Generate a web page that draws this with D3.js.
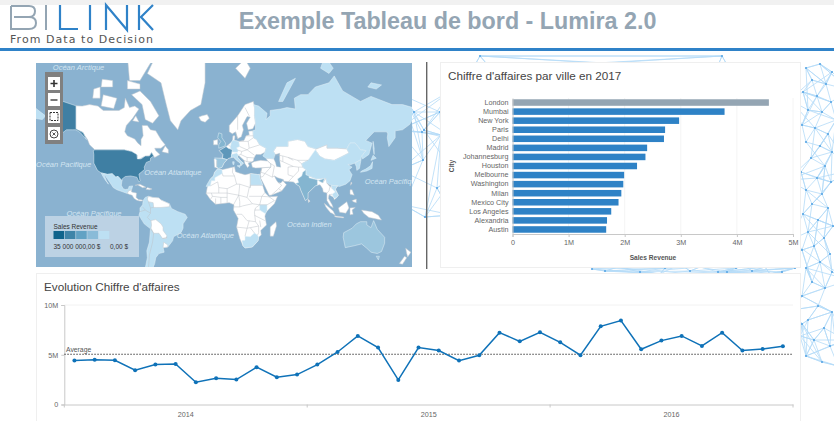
<!DOCTYPE html>
<html>
<head>
<meta charset="utf-8">
<script src="https://d3js.org/d3.v7.min.js"></script>
<style>
html, body { margin: 0; padding: 0; background: #fff; overflow: hidden; }
svg { display: block; }
text { font-family: "Liberation Sans", Arial, sans-serif; }
</style>
</head>
<body>
<div class="svg-container"></div>
<script>
var width = 834,
  height = 421;

// ---- data ----
var cities = ["London", "Mumbai", "New York", "Paris", "Delhi", "Madrid", "Johannesburg", "Houston",
  "Melbourne", "Washington", "Milan", "Mexico City", "Los Angeles", "Alexandria", "Austin"];
var cityRevenue = [4.57, 3.78, 2.97, 2.72, 2.70, 2.40, 2.37, 2.22, 1.99, 1.975, 1.94, 1.89, 1.76, 1.685, 1.67];
var revenueTicks = [0, 1, 2, 3, 4, 5];

var years = ["2014", "2015", "2016"];
var monthlyRevenue = [4.41, 4.51, 4.45, 3.44, 4.01, 4.08, 2.24, 2.64, 2.51, 3.75, 2.74, 3.01,
  4.01, 5.28, 6.89, 5.72, 2.47, 5.72, 5.42, 4.41, 4.95, 7.22, 6.35, 7.26,
  6.25, 4.95, 7.86, 8.43, 5.55, 6.42, 6.89, 5.89, 7.22, 5.42, 5.58, 5.85];
var averageRevenue = 5.05;
var monthlyTicks = [0, 5, 10];

var legendColors = ["#10648c", "#3f84a8", "#62a2c4", "#8abbd8", "#bde0f3"];
var legendLabels = ["35 000 000,00 $", "0,00 $"];

var oceanLabels = [
  ["Océan Arctique", -163, 78.6], ["Océan Arctique", 105, 81.4], ["Océan Pacifique", -179, 37],
  ["Océan Atlantique", -76, 31], ["Océan Pacifique", -150, -7], ["Océan Atlantique", -45, -26.5],
  ["Océan Indien", 60, -17], ["Océan Pacifique", 134, 23]
];

// country outlines in [lon, lat], colour is the legend step
var white = "#ffffff", c1 = "#bde0f3", c2 = "#9cc6de", c3 = "#84b5d0", c4 = "#5e97ba", c5 = "#3f7fa3";
var lands = [
  // americas
  [white, [[-141,69.6],[-135,69.5],[-128,70],[-120,69.5],[-115,68],[-108,68],[-100,68],[-95,69],[-94,72],[-90,69],[-85,69.5],[-81,68.5],[-87,65],[-93,62],[-94.5,59],[-92,57],[-85,55.3],[-82,53],[-79,51.5],[-79,55],[-77,57],[-78,62],[-73,62],[-70,60],[-65,59.5],[-60,55],[-56,52],[-60,50],[-66,50],[-65,48.5],[-61,46],[-66,44],[-67,45],[-69,47.3],[-71,45.2],[-75,45],[-79,43.5],[-83,42],[-82.5,45.5],[-88,48],[-95,49],[-123,49],[-128,52],[-130,55],[-135,59],[-141,60]]],
  [white, [[-62,66],[-68,63],[-75,64.5],[-78,70],[-88,73],[-80,74],[-70,71]]],
  [white, [[-117,69.5],[-105,68.7],[-102,72],[-115,73]]],
  [white, [[-90,76.5],[-80,76.5],[-62,82],[-75,83],[-92,81]]],
  [white, [[-125,72],[-118,72],[-118,75],[-124,74.5]]],
  [white, [[-92,74.5],[-80,74.5],[-80,75.7],[-92,76.5]]],
  [white, [[-117,75],[-106,75],[-106,76.5],[-116,76.8]]],
  [white, [[-59,47.7],[-53,46.8],[-53,49],[-56,51.5]]],
  [white, [[-87,64],[-81,63.5],[-84,66]]],
  [white, [[-73,78],[-60,76],[-55,70],[-51,64],[-44,60],[-41,64],[-32,68],[-22,70],[-18,76],[-18,81],[-30,83.5],[-60,82.5]]],
  [white, [[-24,65.5],[-22,64],[-18,63.4],[-14,65],[-16,66.5],[-21,66]]],
  [c5, [[-124.5,48.4],[-123,49],[-95,49],[-88,48],[-83,46],[-82.5,43],[-79,43],[-75,45],[-71,45],[-69,47.3],[-67,45],[-70,43.5],[-70,41.7],[-74,40.5],[-76,37],[-75.5,35.3],[-81,31.5],[-80,26],[-81,25],[-83,29],[-89,30],[-94,29.5],[-97,27.5],[-97.2,26],[-101,29.7],[-103,29],[-106.5,31.8],[-111,31.3],[-117,32.5],[-120.5,34.5],[-124,40],[-124,46]]],
  [c5, [[-141,69.6],[-156,71.3],[-166,68.5],[-162,66.5],[-168,65.6],[-161,64],[-165,62],[-162,59],[-158,58],[-165,54.7],[-155,58],[-150,60],[-144,60],[-141,60],[-137,58.7],[-131,55],[-134,58.5],[-141,60.5]]],
  [c1, [[-117,32.5],[-111,31.3],[-106.5,31.8],[-103,29],[-101,29.7],[-97.2,26],[-97.8,22],[-96,19],[-94,18.2],[-91,18.7],[-90.5,21],[-87,21.5],[-88,18],[-91,17],[-92,14.6],[-96,16],[-102,18],[-105.5,20],[-109,25],[-112.5,29.5],[-114.5,31.5],[-112,26],[-110,23],[-113,26.5],[-115.5,30]]],
  [white, [[-92,14.6],[-91,17],[-88,18],[-88,16],[-83.3,15],[-83.7,11],[-81.5,9],[-77.5,8.5],[-78,7.5],[-80,7.5],[-83,8.3],[-85.7,10],[-87.5,13],[-90,13.7]]],
  [white, [[-84.8,22],[-80,23],[-74.3,20.2],[-77.5,19.9],[-82,22.3]]],
  [white, [[-74.4,18.5],[-73,20],[-68.5,18.7],[-71,18]]],
  [c1, [[-77,8],[-75,11],[-72,12],[-68,11],[-62,10.5],[-60,8.5],[-52,5],[-50,0.5],[-44,-2.5],[-37,-5],[-35,-8],[-39,-14],[-39,-18],[-41,-22],[-48,-25.5],[-49,-29],[-53.5,-34],[-58,-34.5],[-57,-38],[-62,-39],[-65,-42],[-66,-46],[-69,-51],[-68,-55],[-72,-53.5],[-75,-49],[-73,-42],[-73.5,-37],[-71,-30],[-70,-18.5],[-76,-14],[-81,-6],[-80,-2.5],[-80,1],[-77.5,4]]],
  [white, [[-72,12],[-68,11],[-62,10.5],[-60,8.5],[-52,5],[-52,2.2],[-60,1.5],[-64,1.5],[-67,1.5],[-67.5,6],[-72,7],[-73,9.5]]],
  [white, [[-69.5,-11],[-65,-10],[-60,-14],[-58,-17],[-58,-20],[-54.5,-24.5],[-55,-27],[-58.5,-27],[-62,-22.5],[-67,-22.5],[-69.5,-18],[-69,-15]]],
  [white, [[-58,-34.5],[-53.5,-34],[-53.5,-32.5],[-57.5,-30]]],
  // africa
  [white, [[-6,35.8],[-2,35],[10,37.3],[11,33.5],[15,32.3],[20,31],[25,32],[32,31.2],[34,31.3],[34.5,28],[37,21.5],[39,15.5],[43,11.5],[51,12],[48,5],[40,-3],[39,-7],[40.5,-15],[35,-20],[35.5,-24],[33,-26],[32.5,-29],[27,-34],[20,-34.8],[18,-33],[15,-27],[12,-17],[13.5,-9],[9,-1],[9.5,4],[5,6],[-3,5],[-8,4.5],[-13,9],[-17,14.7],[-16,20],[-13,27.5],[-10,30],[-9,33]]],
  [c1, [[-6,35.8],[-2,35],[-1.5,32],[-8.7,28.5],[-8.7,26],[-12,26],[-13,21.5],[-17,21],[-16,23],[-13,27.5],[-10,30],[-9,33]]],
  [c1, [[25,32],[32,31.2],[34,31.3],[34.5,28],[37,22],[25,22]]],
  [c1, [[34,4],[41,4],[41,-1.5],[39.5,-4.5],[34,-1]]],
  [c1, [[17,-28.8],[20,-28.5],[20,-25],[25,-25.5],[29,-22.3],[32,-24],[33,-26],[32.5,-29],[27,-34],[20,-34.8],[18,-33]]],
  [white, [[49.5,-12],[50,-16],[47,-25],[44,-25],[44,-17]]],
  // europe
  [white, [[5,59],[5,62],[13,66],[20,70],[28,71],[29,69],[29,66],[30,63],[27.5,60.5],[23,60],[21.5,63],[25,65.5],[22,65.7],[17.5,62],[18.5,60],[16.5,56.5],[13,55.5],[11,59],[8,58]]],
  [white, [[-9,37],[-9.5,43],[-2,43.5],[-1,46],[-4.5,48.5],[2,51],[4,52],[8,54],[8.5,57],[10.5,57],[10,54.5],[14,54],[19,54.5],[21,57],[24,57.5],[23.5,59.3],[27.5,59.5],[28,56],[31,55],[34,52],[40,50],[39,47.5],[35,46],[33,46],[30.5,46],[28.5,43.5],[28,41.5],[26,40.8],[23,40],[24,38],[22.5,36.6],[20,39.5],[19,42],[14,45.3],[12.5,44.5],[16,41.5],[18.5,40],[16,38],[15.5,40],[12,42],[9,44.3],[4,43.3],[0,40],[-2,36.8],[-5.5,36]]],
  [c1, [[6,51],[7,53.5],[8.5,54.8],[10,54.5],[14,54],[15,51],[12,50.2],[13.5,48.7],[13,47.5],[7.5,47.6],[8,49],[6,49.5]]],
  [c4, [[-1.5,43.4],[-1,46],[-4.5,48.5],[2,51],[4,50],[8,49],[7.5,47.6],[7,44],[4,43.3],[3,42.5]]],
  [c2, [[-9,43.7],[-2,43.4],[3,42.5],[0,40],[-2,36.8],[-5.5,36],[-7,37.2],[-7,42]]],
  [c1, [[7,44],[9,44.3],[12,42],[15.5,40],[16,38],[18.5,40],[16,41.5],[12.5,44.5],[14,45.5],[12,47],[7,46]]],
  [c1, [[12.5,38],[15.5,38.2],[15,36.7]]],
  [c1, [[8.2,41],[9.7,41],[9.5,39],[8.5,39]]],
  [c3, [[-5,50],[1,51.3],[1.5,53],[-2,56],[-2,58],[-5,58.5],[-6,56],[-3,54],[-5,52]]],
  [white, [[-10,52],[-6,52],[-6,55],[-10,54.5]]],
  [white, [[11,79],[20,77],[25,79],[20,80.5]]],
  // asia
  [white, [[40,43.5],[47.5,43],[49,46],[47,48],[50,51],[61,51],[61,54],[70,55],[77,54],[80,51],[88,49.5],[90,45],[80,42],[74,39.5],[75,37],[78,35],[78,31],[81,30],[88,27.5],[97,28],[98,24],[101,21],[107,21.5],[108.5,21.5],[106,19],[109,13],[107,10.5],[105,8.7],[104.5,11],[100,13.5],[99.5,10],[103,4],[104,1.3],[101,3],[98,8],[98,15],[94.5,16],[94,19],[91.5,22.5],[89,22],[87,21.5],[80,15],[80,10],[77.5,8],[73,18],[72,21],[68,23.5],[66,25],[57,25.5],[56.5,27],[51,28.5],[48,30],[50,26.5],[51.5,24.5],[54,24],[56,26],[59.5,22.5],[55,17],[45,13],[43,13],[39,21],[35,28],[34.5,31.5],[36,36.5],[44.5,37],[44.5,39.5],[41.5,41.5]]],
  [white, [[26,40],[29,41.2],[35,42],[41.5,41.5],[44.5,39.5],[44.5,37],[36,36.5],[30,36.3],[27,37]]],
  [c1, [[28,70],[33,69.5],[41,67],[40,64.5],[44,66],[44,68],[54,68.5],[60,69],[68,68.5],[67,72],[73,73],[80,73],[87,75],[100,76],[105,77.5],[113,74],[130,71],[140,72.5],[160,70],[170,70],[180,69],[180,65],[177,62.5],[170,60],[163,59.5],[163,56],[157,51],[155.5,56],[156,58],[155,59],[143,59],[135,54.5],[141,53],[138,46],[132,43],[131,45],[135,48.5],[130,49],[125,53],[120,53],[117,49.5],[108,50],[98,50],[98,52],[88,49.5],[80,51],[77,54],[70,55],[61,54],[61,51],[50,51],[47,48],[49,46],[47.5,43],[40,43.5],[37,45],[39,47.5],[40,50],[34,52],[31,55],[28,56],[27.5,59.5],[30,60],[30,63],[29,66],[29,69]]],
  [c1, [[-180,69],[-175,67.5],[-170,66],[-173,64.5],[-180,65]]],
  [c1, [[142,54],[143,50],[143,46],[142,50]]],
  [c1, [[52,71],[56,71],[68,77],[60,76]]],
  [c1, [[137,75],[145,74.5],[150,75.5],[140,76]]],
  [c1, [[92,79],[100,78],[104,79],[96,81]]],
  [white, [[87,49],[91,45],[96,43],[105,42],[112,44.5],[119,47],[117,49.5],[108,50],[98,50],[98,52],[88,49.5]]],
  [c1, [[74,39.5],[80,42],[87,49],[91,45],[96,43],[105,42],[112,44.5],[119,47],[117,49.5],[120,53],[125,53],[130,49],[135,48.5],[131,45],[130.5,42.5],[124.5,40],[121,39],[118,39],[122,37],[119,35],[122,31],[120,26],[116,23],[110,21],[108,21.5],[102,22],[98,24],[97,28],[88,27.5],[81,30],[78,31],[78,35],[75,37]]],
  [c1, [[124.5,40],[130.5,42.5],[129,36],[126.5,34.5],[126,37.5]]],
  [c1, [[130,33],[136,34],[141,36],[141.5,41],[139.5,38],[135,35.5],[131,34]]],
  [c1, [[140,42],[145,43.5],[142,45.5]]],
  [c3, [[68,23.5],[72,21],[73,18],[77.5,8],[80,10],[80,15],[87,21.5],[89,22],[89,26],[96,28],[94,24],[92,25],[88,27],[81,28.5],[81,30],[78,31],[78,35],[75,33],[74,30],[70,27.5],[71,24.5]]],
  [c1, [[102,22],[108,21.5],[106,18],[109,13],[107,10.5],[104.5,10.5],[103,14],[106,16],[103,19]]],
  [white, [[95.5,5.5],[104,-2],[106,-6],[101,-3],[97,2]]],
  [white, [[105,-6.5],[114,-7.5],[114,-8.5],[106,-7.5]]],
  [white, [[109,1],[117,7],[119,1],[116,-4],[110,-3]]],
  [white, [[120,1],[125,1.5],[122,-1],[123,-5],[120,-5.5]]],
  [white, [[131,-1],[141,-2.5],[147,-6],[150,-10.5],[143,-9],[138,-8],[133,-4]]],
  [white, [[120,18],[122,18],[124,13],[120,14]]],
  [white, [[122,8],[126,9.5],[126,6],[123,7]]],
  [white, [[80,9.5],[82,7.5],[80.5,6]]],
  [white, [[121,25],[122,24],[120.5,22]]],
  // oceania
  [c2, [[114,-22],[122,-18],[126,-14],[130,-12],[136,-12],[136,-15],[140,-17.5],[142.5,-11],[146,-19],[153,-26],[153,-31],[150,-37.5],[146,-39],[140,-38],[136,-35],[131,-31.5],[124,-33],[115.5,-34.5],[113.5,-26]]],
  [c2, [[145,-41],[148,-41],[147,-43.5]]],
  [white, [[173,-35],[178,-38],[175,-41.5],[174,-39]]],
  [white, [[172,-41],[174,-42],[170,-46.5],[167,-46]]]
];

var caspian = [[47.5,43],[49,46],[53,46.8],[53,42],[54,37],[50,37.5],[49,40.5]];

var borders = [
  // south america
  [[-72,7],[-70,1],[-67,1.5]], [[-70,1],[-70,-4],[-73,-8],[-70,-11]], [[-80,-2.5],[-75,-1],[-70,-4]], [[-77.5,2],[-75,-1]],
  [[-70,-18.5],[-67,-22.5],[-68,-30],[-71,-40],[-72,-50],[-69,-52]], [[-58.5,-27],[-54,-26]],
  // africa
  [[-13,21.5],[-6,25],[-5,20],[3,19],[12,23],[10,30],[8,33],[8.5,37]], [[-1.5,32],[-1,30],[10,30]], [[12,23],[15,23],[25,20],[25,22]], [[25,32],[25,20]],
  [[-12,15],[-5,15],[-5,20]], [[-17,15],[-12,15],[-11,12],[-13,9]], [[-5,15],[3,15],[3,19]], [[3,15],[14,13],[15,23]], [[14,13],[22,11],[24,20]],
  [[3,15],[3,6]], [[-3,5],[-3,11],[-11,12]], [[-8,4.5],[-8,10]], [[-3,11],[3,11]], [[9,4],[14,13]],[[14,13],[15,7],[15,2],[9.5,2]],
  [[22,11],[27,5],[34,4]], [[25,22],[37,22]], [[24,12],[36,12],[34,4]], [[36,12],[39,15.5]], [[36,12],[43,11.5]], [[34,4],[41,4],[48,8],[43,11.5]],
  [[15,2],[18,3],[27,5]], [[12,-5],[17,-5],[22,-11],[30,-12],[29,-3],[30,1],[34,4]], [[12,-17],[22,-18],[24,-11]],[[22,-18],[20,-25]], [[22,-18],[25,-17.5],[33,-16],[30,-12]],
  [[29,-1],[34,-1]], [[29,-6],[39,-11]], [[34,-11],[35,-17]], [[25,-17.5],[29,-22.3]], [[33,-16],[33,-22],[32,-24]],
  // europe
  [[14,54],[23,54],[24,50],[22,49],[15,51]], [[23,54],[28,56]], [[24,50],[34,52]], [[22,49],[29,45.5]], [[22,49],[17,48],[13.5,48.7]], [[17,48],[16,46],[14,45.5]],
  [[21,57],[28,57]], [[16,46],[22,44],[28.5,43.7]], [[22,44],[22,41],[26,41]], [[19,42],[22,41]], [[6,51],[4,52]], [[13,55.5],[11,59]], [[13,60],[13,66]], [[20,69],[24,66]], [[-7,37.2],[-7,42]],
  // middle east and central asia
  [[36,36.5],[35,33],[34.5,31.5]], [[39,32],[46,29],[48,30]], [[35,33],[39,32],[44.5,37]], [[46,29],[48,38]], [[44.5,39.5],[48,38]],
  [[45,13],[52,19],[55,22],[51.5,24.5]], [[39,32],[37,29.5],[34.5,29]], [[55,17],[52,19]],
  [[53,42],[56,41],[66,37.5],[71,37],[75,37]], [[49,46],[56,45],[61,44],[70,42],[80,42]], [[56,45],[56,41]], [[61,37],[61,31],[66,29.5],[61,25]], [[61,37],[66,37.5]], [[71,37],[71,34],[66,29.5]], [[70,42],[74,39.5]], [[66,42],[61,44]],
  [[98,24],[101,21],[100,17],[98,15]], [[101,21],[103,19]], [[103,14],[100,13.5]], [[97,28],[94,24]]
];

// ---- network background ----
var netRight = [[806,68],[820,64],[832,72],[812,80],[826,84],[803,92],[817,96],[831,102],[808,110],[822,112],[836,120],
  [802,125],[815,128],[828,134],[806,142],[820,146],[832,152],[811,158],[825,166],[801,172],[817,178],[831,182],
  [806,190],[822,194],[812,204],[828,208],[803,214],[818,220],[833,226],[808,232],[824,238],[814,246],[802,250],
  [830,254],[820,262],[806,268],[832,272],[812,282],[825,288],[802,296],[818,306],[832,312],[808,320],[824,328],
  [800,336],[814,340],[830,346],[806,356],[822,362],[802,324],[838,366],[790,100],[788,180],[790,240],[792,310],[850,90],[852,170],[850,280],[846,340]];
var netMiddle = [[414,112],[422,132],[440,112],[424,130],[423,160],[437,188],[425,217],[402,95],[452,90],[398,130],[456,140],[400,170],[456,175],[404,205],[452,215],[441,135]];
var netStrip = [[592,269],[605,271],[618,267],[640,272],[665,268],[690,271],[700,267],[718,272],[736,268],[752,271],[765,267],[782,272],[795,268],[660,274],[727,272],[745,266],[770,274],[680,264]];
var netTop = [[480,56],[472,70],[492,70],[722,56],[716,70],[730,70]];
var linkRanks = [0, 1, 3, 7];

// ---- page ----
var svg = d3.select(".svg-container").append("svg")
  .attr("width", width)
  .attr("height", height);

svg.append("rect").attr("width", width).attr("height", height).attr("fill", "#fff");
svg.append("rect").attr("width", width).attr("height", 5).attr("fill", "#f1f1f1");

// every node is tied to a few of its closest neighbours
var drawNet = function(nodes) {
  var g = svg.append("g");
  nodes.forEach(function(a) {
    var others = nodes.filter(function(b) { return b !== a; }).sort(function(p, q) {
      return d3.sum([(p[0] - a[0]) * (p[0] - a[0]), (p[1] - a[1]) * (p[1] - a[1])]) -
        d3.sum([(q[0] - a[0]) * (q[0] - a[0]), (q[1] - a[1]) * (q[1] - a[1])]);
    });
    linkRanks.forEach(function(r) {
      if (!others[r]) return;
      g.append("line")
        .attr("x1", a[0]).attr("y1", a[1])
        .attr("x2", others[r][0]).attr("y2", others[r][1])
        .attr("stroke", "#b4daf7")
        .attr("stroke-width", 0.8);
    });
  });
  g.selectAll("circle")
    .data(nodes)
    .enter()
    .append("circle")
    .attr("cx", function(d) { return d[0]; })
    .attr("cy", function(d) { return d[1]; })
    .attr("r", 1.1)
    .attr("fill", "#58a6e4");
};
drawNet(netRight);
drawNet(netMiddle);
drawNet(netStrip);
drawNet(netTop);

// header
svg.append("rect").attr("x", 0).attr("y", 5).attr("width", width).attr("height", 43).attr("fill", "#fff");
svg.append("rect").attr("x", 0).attr("y", 48).attr("width", width).attr("height", 3).attr("fill", "#2f82c8");
svg.append("text")
  .attr("x", 447.5).attr("y", 29)
  .attr("text-anchor", "middle")
  .attr("font-size", 23.3)
  .attr("font-weight", "bold")
  .attr("fill", "#94a5b3")
  .text("Exemple Tableau de bord - Lumira 2.0");

// logo
var logo = svg.append("g").attr("fill", "none").attr("stroke-width", 2);
logo.append("path").attr("stroke", "#94a5b3")
  .attr("d", "M11,6 H29 Q35,6 35,11 Q35,17 29,17 H14 M29,17 Q36,17 36,23 Q36,29 29,29 H11 V6");
logo.append("path").attr("stroke", "#94a5b3").attr("d", "M46,5 V30");
logo.append("path").attr("stroke", "#2f82c8").attr("stroke-width", 2.2)
  .attr("d", "M60,5 V29 H78 M90,5 V30 M106,30 V5 L127,30 V5 M139,5 V30 M153,5 L141,17 L153,30");
svg.append("text")
  .attr("x", 10).attr("y", 43)
  .attr("font-size", 11)
  .attr("textLength", 143)
  .attr("fill", "#555")
  .style("font-family", "'DejaVu Sans'")
  .text("From Data to Decision");

// ---- map ----
var mapX = 36, mapY = 63, mapW = 376, mapH = 204;
var projection = d3.geoMercator().scale(60.16).translate([224, 209]);
var ring = d3.line()
  .x(function(d) { return projection(d)[0]; })
  .y(function(d) { return projection(d)[1]; });
var closedRing = d3.line()
  .x(function(d) { return projection(d)[0]; })
  .y(function(d) { return projection(d)[1]; })
  .curve(d3.curveLinearClosed);

svg.append("clipPath").attr("id", "map-clip").append("rect")
  .attr("x", mapX).attr("y", mapY).attr("width", mapW).attr("height", mapH);

var map = svg.append("g").attr("clip-path", "url(#map-clip)");
map.append("rect").attr("x", mapX).attr("y", mapY).attr("width", mapW).attr("height", mapH).attr("fill", "#8ab2d0");

map.selectAll(".land")
  .data(lands)
  .enter()
  .append("path")
  .attr("class", "land")
  .attr("d", function(d) { return closedRing(d[1]); })
  .attr("fill", function(d) { return d[0]; })
  .attr("stroke", function(d) { return d[0] === white ? "#c3c9ce" : "#e4f0f7"; })
  .attr("stroke-width", 0.5)
  .attr("stroke-linejoin", "round");

map.append("path").attr("d", closedRing(caspian)).attr("fill", "#8ab2d0").attr("stroke", "#c3c9ce").attr("stroke-width", 0.4);

map.selectAll(".border")
  .data(borders)
  .enter()
  .append("path")
  .attr("class", "border")
  .attr("d", function(d) { return ring(d); })
  .attr("fill", "none")
  .attr("stroke", "#bcc3c8")
  .attr("stroke-width", 0.5);

map.selectAll(".ocean")
  .data(oceanLabels)
  .enter()
  .append("text")
  .attr("class", "ocean")
  .attr("x", function(d) { return projection([d[1], d[2]])[0]; })
  .attr("y", function(d) { return projection([d[1], d[2]])[1]; })
  .attr("font-size", 7.5)
  .attr("font-style", "italic")
  .attr("fill", "#d3e5f1")
  .text(function(d) { return d[0]; });

// zoom buttons
var controls = svg.append("g");
controls.append("rect").attr("x", 45).attr("y", 72).attr("width", 18).attr("height", 72).attr("fill", "#808080");
var buttonY = [77, 93, 110, 127];
controls.selectAll(".btn")
  .data(buttonY)
  .enter()
  .append("rect")
  .attr("class", "btn")
  .attr("x", 48).attr("y", function(d) { return d; })
  .attr("width", 12).attr("height", 13)
  .attr("fill", "#fff");
controls.append("path").attr("d", "M50.5,83.5 H57.5 M54,80 V87").attr("stroke", "#333").attr("stroke-width", 1.6);
controls.append("path").attr("d", "M50.5,100 H57.5").attr("stroke", "#555").attr("stroke-width", 1.6);
controls.append("rect").attr("x", 50).attr("y", 112.5).attr("width", 8).attr("height", 8)
  .attr("fill", "none").attr("stroke", "#333").attr("stroke-width", 1).attr("stroke-dasharray", "2,1");
controls.append("circle").attr("cx", 54).attr("cy", 134).attr("r", 4)
  .attr("fill", "none").attr("stroke", "#444").attr("stroke-width", 1);
controls.append("path").attr("d", "M52.5,132.5 L55.5,135.5 M55.5,132.5 L52.5,135.5").attr("stroke", "#444").attr("stroke-width", 0.9);

// legend
var legend = svg.append("g");
legend.append("rect").attr("x", 45).attr("y", 216).attr("width", 94).attr("height", 41)
  .attr("fill", "#c4d7e7").attr("fill-opacity", 0.85);
legend.append("text").attr("x", 53.5).attr("y", 229).attr("font-size", 6.5).attr("fill", "#333").text("Sales Revenue");
legend.selectAll(".swatch")
  .data(legendColors)
  .enter()
  .append("rect")
  .attr("class", "swatch")
  .attr("x", function(d, i) { return 53.5 + i * 11.3; })
  .attr("y", 231)
  .attr("width", 10.6)
  .attr("height", 8)
  .attr("fill", function(d) { return d; });
legend.selectAll(".legend-label")
  .data(legendLabels)
  .enter()
  .append("text")
  .attr("class", "legend-label")
  .attr("x", function(d, i) { return i === 0 ? 53.5 : 110; })
  .attr("y", 249)
  .attr("font-size", 6.5)
  .attr("fill", "#333")
  .text(function(d) { return d; });

// divider
svg.append("rect").attr("x", 426).attr("y", 62).attr("width", 1.4).attr("height", 207).attr("fill", "#666");

// ---- bar chart panel ----
svg.append("rect").attr("x", 440.5).attr("y", 62.5).attr("width", 360).attr("height", 205)
  .attr("fill", "#fff").attr("stroke", "#efefef");
svg.append("text").attr("x", 448).attr("y", 80).attr("font-size", 11.7).attr("fill", "#444")
  .text("Chiffre d'affaires par ville en 2017");

var x = d3.scaleLinear().domain([0, 5]).range([512.5, 793]);
var y = d3.scaleBand().domain(cities).range([98, 234]).paddingInner(0.28).paddingOuter(0.14);

var barGrid = svg.append("g");
barGrid.selectAll("line")
  .data(revenueTicks.slice(1))
  .enter()
  .append("line")
  .attr("x1", function(d) { return x(d); })
  .attr("x2", function(d) { return x(d); })
  .attr("y1", 98).attr("y2", 234)
  .attr("stroke", "#f4f4f4");

svg.selectAll(".bar")
  .data(cities)
  .enter()
  .append("rect")
  .attr("class", "bar")
  .attr("x", x(0))
  .attr("y", function(d) { return y(d); })
  .attr("width", function(d, i) { return x(cityRevenue[i]) - x(0); })
  .attr("height", y.bandwidth())
  .attr("fill", function(d, i) { return i === 0 ? "#94a5b3" : "#2e82c6"; });

var styleAxis = function(g) {
  g.selectAll("path").attr("stroke", "#c8c8c8");
  g.selectAll("line").attr("stroke", "#c8c8c8");
  g.selectAll("text").attr("fill", "#666").style("font-size", "7.2px").style("font-family", "'Liberation Sans', Arial, sans-serif");
};

svg.append("g")
  .attr("transform", "translate(0,234)")
  .call(d3.axisBottom(x).tickValues(revenueTicks).tickSize(3).tickFormat(function(d) { return d === 0 ? "0" : d + "M"; }))
  .call(styleAxis);
svg.append("g")
  .attr("transform", "translate(512.5,0)")
  .call(d3.axisLeft(y).tickSize(0).tickPadding(4))
  .call(styleAxis);

svg.append("text").attr("x", 653).attr("y", 260).attr("text-anchor", "middle")
  .attr("font-size", 6.6).attr("font-weight", "bold").attr("fill", "#555").text("Sales Revenue");
svg.append("text").attr("transform", "translate(454,166) rotate(-90)").attr("text-anchor", "middle")
  .attr("font-size", 6.6).attr("font-weight", "bold").attr("fill", "#555").text("City");

// ---- line chart panel ----
svg.append("rect").attr("x", 36.5).attr("y", 273.5).attr("width", 764).attr("height", 150)
  .attr("fill", "#fff").attr("stroke", "#efefef");
svg.append("text").attr("x", 44).attr("y", 291).attr("font-size", 11.7).attr("fill", "#444")
  .text("Evolution Chiffre d'affaires");

var monthIndex = monthlyRevenue.map(function(d, i) { return i; });
var lx = d3.scaleBand().domain(monthIndex).range([64.3, 793]);
var ly = d3.scaleLinear().domain([0, 10]).range([404.5, 305]);
var yearX = d3.scaleBand().domain(years).range([64.3, 793]);

svg.append("line").attr("x1", 64.3).attr("x2", 793).attr("y1", ly(10)).attr("y2", ly(10)).attr("stroke", "#f2f2f2");

svg.append("g")
  .attr("transform", "translate(0,404.5)")
  .call(d3.axisBottom(yearX).tickSize(0).tickPadding(7))
  .call(styleAxis);
var yearEdges = [64.3, yearX("2015"), yearX("2016"), 793];
svg.selectAll(".year-tick")
  .data(yearEdges)
  .enter()
  .append("line")
  .attr("class", "year-tick")
  .attr("x1", function(d) { return d; })
  .attr("x2", function(d) { return d; })
  .attr("y1", 404.5).attr("y2", 407.5)
  .attr("stroke", "#c8c8c8");
svg.append("g")
  .attr("transform", "translate(64.3,0)")
  .call(d3.axisLeft(ly).tickValues(monthlyTicks).tickSize(3).tickFormat(function(d) { return d === 0 ? "0" : d + "M"; }))
  .call(styleAxis);

svg.append("line")
  .attr("x1", 64.3).attr("x2", 793)
  .attr("y1", ly(averageRevenue)).attr("y2", ly(averageRevenue))
  .attr("stroke", "#444")
  .attr("stroke-width", 1.2)
  .attr("stroke-dasharray", "1.5,1.5");
svg.append("text").attr("x", 66).attr("y", 351.5).attr("font-size", 6.8).attr("fill", "#555").text("Average");

var revenueLine = d3.line()
  .x(function(d, i) { return lx(i) + lx.bandwidth() / 2; })
  .y(function(d) { return ly(d); });

svg.append("path")
  .attr("d", revenueLine(monthlyRevenue))
  .attr("fill", "none")
  .attr("stroke", "#0f72b8")
  .attr("stroke-width", 1.5);

svg.selectAll(".point")
  .data(monthlyRevenue)
  .enter()
  .append("circle")
  .attr("class", "point")
  .attr("cx", function(d, i) { return lx(i) + lx.bandwidth() / 2; })
  .attr("cy", function(d) { return ly(d); })
  .attr("r", 2)
  .attr("fill", "#0f72b8");
</script>
</body>
</html>
